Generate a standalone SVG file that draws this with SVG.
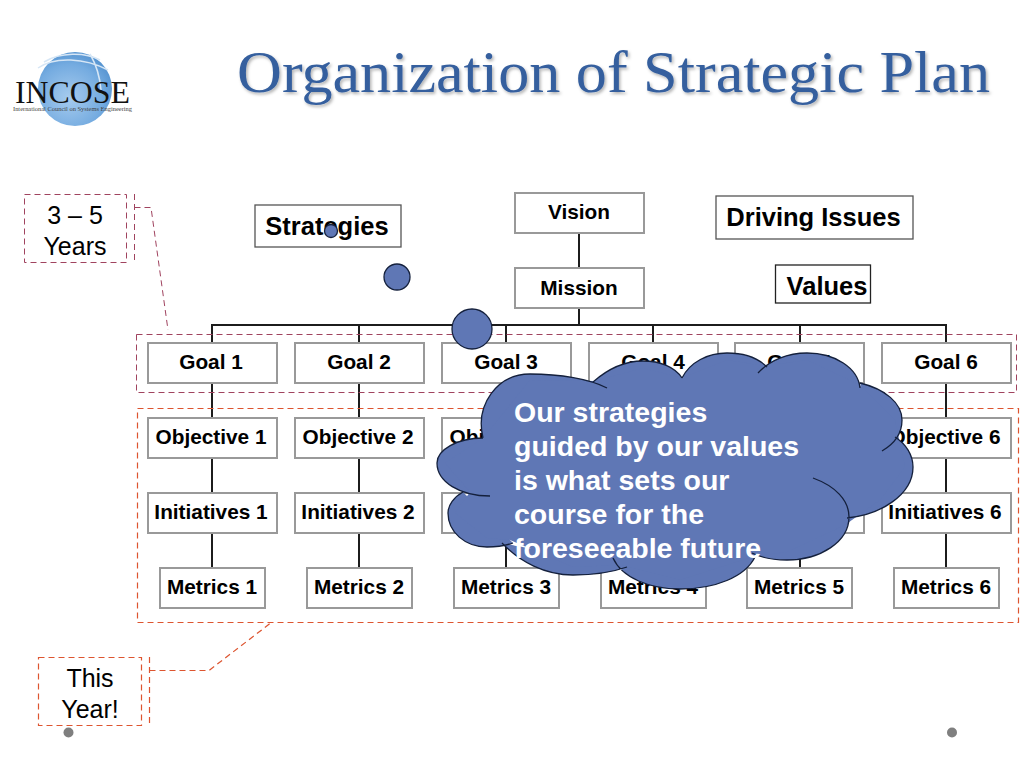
<svg xmlns="http://www.w3.org/2000/svg" xmlns:xlink="http://www.w3.org/1999/xlink" width="1024" height="768" viewBox="0 0 1024 768">
<style>
text{font-family:"Liberation Sans",Arial,sans-serif}
.box{fill:#fff;stroke:#999;stroke-width:2}
.tb{fill:#fff;stroke:#555;stroke-width:1.300}
.lb{font-size:20.800px;font-weight:bold;fill:#000;text-anchor:middle}
.big{font-size:25.500px;font-weight:bold;fill:#000;text-anchor:middle}
.reg{font-size:25px;fill:#000;text-anchor:middle}
.ln{stroke:#1c1c1c;stroke-width:2;fill:none}
.d1{fill:none;stroke:#a0435f;stroke-width:1;stroke-dasharray:6 4}
.d2{fill:none;stroke:#dd5530;stroke-width:1.200;stroke-dasharray:6 4}
.blob{fill:#5f77b5;stroke:#14203c;stroke-width:1.300}
.cl{font-size:28.500px;font-weight:bold;fill:#fff}
</style>
<defs>
<radialGradient id="sph" cx="0.42" cy="0.62" r="0.65"><stop offset="0" stop-color="#a6cbee"/><stop offset="0.7" stop-color="#74abe0"/><stop offset="1" stop-color="#5593d0"/></radialGradient>
<filter id="ts" x="-5%" y="-20%" width="110%" height="140%"><feDropShadow dx="1.500" dy="2" stdDeviation="1.500" flood-color="#000" flood-opacity="0.3"/></filter>
<path id="lobes" d="M483,438 C475,405 497,374 530,374 C560,374 590,379 607,388 M593,382 C610,367 627,361 643,361 C660,361 675,367 682,378 M682,378 C690,362 708,353 727,353 C745,353 758,358 767,367 M758,373 C770,360 788,353 807,353 C835,353 858,368 860,388 M860,383 C885,389 902,403 902,420 C902,433 894,444 882,451 M895,437 C906,444 913,455 913,467 C913,495 880,515 847,518 M813,478 C835,486 849,500 849,517 C849,542 820,560 787,560 C775,560 762,558 752,553 M755,557 C745,577 715,589 680,589 C650,589 622,578 613,558 M627,567 C610,573 592,575 573,575 C545,575 520,562 502,543 M513,543 C505,546 496,547 487,547 C465,547 448,532 448,513 C448,505 454,497 463,492 M490,496 C460,496 437,482 437,463 C437,450 457,438 483,438"/>
</defs>
<rect width="1024" height="768" fill="#fff"/>

<g id="logo">
<circle cx="75" cy="89" r="37" fill="url(#sph)"/>
<path d="M38,68 C55,56 85,58 108,70 M44,62 C60,52 85,52 100,60 M90,54 C97,66 100,78 101,90" fill="none" stroke="#d6e6f5" stroke-width="1.500"/>
<text x="15" y="103" font-size="31" textLength="115" lengthAdjust="spacingAndGlyphs" style="font-family:'Liberation Serif',serif" fill="#111">INCOSE</text>
<text x="13" y="110.500" font-size="5.400" textLength="119" lengthAdjust="spacingAndGlyphs" style="font-family:'Liberation Serif',serif" fill="#444">International Council on Systems Engineering</text>
</g>
<text id="title" x="237" y="92" font-size="60" textLength="753" lengthAdjust="spacingAndGlyphs" filter="url(#ts)" style="font-family:'Liberation Serif',serif" fill="#355f9e">Organization of Strategic Plan</text>

<g id="connectors">
<path class="ln" d="M579,233V268M579,308V325M212,343V325H946V343M359,325V343M506,325V343M653,325V343M800,325V343"/>
<path class="ln" d="M212,383V568M359,383V568M506,383V568M653,383V568M800,383V568M946,383V568"/>
</g>

<g id="vision"><rect class="box" x="515" y="193" width="129" height="40"/><text class="lb" x="579" y="219">Vision</text></g>
<g id="mission"><rect class="box" x="515" y="268" width="129" height="40"/><text class="lb" x="579" y="295">Mission</text></g>
<g id="strategies"><rect class="tb" x="255" y="205" width="146" height="42"/><text class="big" x="327" y="235">Strategies</text></g>
<g id="driving"><rect class="tb" x="716" y="196" width="197" height="43"/><text class="big" x="813.500" y="226">Driving Issues</text></g>
<g id="values"><rect x="775.500" y="265" width="95" height="38" fill="#fff" stroke="#222" stroke-width="1.300"/><text class="big" x="827" y="295">Values</text></g>

<g id="goal1"><rect class="box" x="148" y="343" width="129" height="40"/><text class="lb" x="211" y="369">Goal 1</text></g>
<g id="goal2"><rect class="box" x="295" y="343" width="129" height="40"/><text class="lb" x="359" y="369">Goal 2</text></g>
<g id="goal3"><rect class="box" x="442" y="343" width="129" height="40"/><text class="lb" x="506" y="369">Goal 3</text></g>
<g id="goal4"><rect class="box" x="589" y="343" width="129" height="40"/><text class="lb" x="653" y="369">Goal 4</text></g>
<g id="goal5"><rect class="box" x="735" y="343" width="129" height="40"/><text class="lb" x="799" y="369">Goal 5</text></g>
<g id="goal6"><rect class="box" x="882" y="343" width="129" height="40"/><text class="lb" x="946" y="369">Goal 6</text></g>

<g id="objective1"><rect class="box" x="148" y="418" width="129" height="40"/><text class="lb" x="211" y="444">Objective 1</text></g>
<g id="objective2"><rect class="box" x="295" y="418" width="129" height="40"/><text class="lb" x="358" y="444">Objective 2</text></g>
<g id="objective3"><rect class="box" x="442" y="418" width="129" height="40"/><text class="lb" x="505" y="444">Objective 3</text></g>
<g id="objective6"><rect class="box" x="882" y="418" width="129" height="40"/><text class="lb" x="945" y="444">Objective 6</text></g>

<g id="initiatives1"><rect class="box" x="148" y="493" width="129" height="40"/><text class="lb" x="211" y="519">Initiatives 1</text></g>
<g id="initiatives2"><rect class="box" x="295" y="493" width="129" height="40"/><text class="lb" x="358" y="519">Initiatives 2</text></g>
<g id="initiatives3"><rect class="box" x="442" y="493" width="129" height="40"/></g>
<g id="initiatives5"><rect class="box" x="735" y="493" width="129" height="40"/></g>
<g id="initiatives6"><rect class="box" x="882" y="493" width="129" height="40"/><text class="lb" x="945" y="519">Initiatives 6</text></g>

<g id="metrics1"><rect class="box" x="160" y="568" width="105" height="40"/><text class="lb" x="212" y="594">Metrics 1</text></g>
<g id="metrics2"><rect class="box" x="307" y="568" width="105" height="40"/><text class="lb" x="359" y="594">Metrics 2</text></g>
<g id="metrics3"><rect class="box" x="454" y="568" width="105" height="40"/><text class="lb" x="506" y="594">Metrics 3</text></g>
<g id="metrics4"><rect class="box" x="601" y="568" width="105" height="40"/><text class="lb" x="653" y="594">Metrics 4</text></g>
<g id="metrics5"><rect class="box" x="747" y="568" width="105" height="40"/><text class="lb" x="799" y="594">Metrics 5</text></g>
<g id="metrics6"><rect class="box" x="894" y="568" width="105" height="40"/><text class="lb" x="946" y="594">Metrics 6</text></g>

<g id="range-goals"><rect class="d1" x="136.500" y="334.500" width="880" height="58"/></g>
<g id="range-year"><rect class="d2" x="137.500" y="408.500" width="881" height="214"/></g>

<g id="years"><rect class="d1" x="24.500" y="194.500" width="102" height="68"/><path class="d1" d="M134.500,194V262M134.500,207.500H151L168,330"/><text class="reg" x="75" y="224">3 – 5</text><text class="reg" x="75" y="255">Years</text></g>
<g id="thisyear"><rect class="d2" x="38.500" y="657.500" width="103" height="68"/><path class="d2" d="M149.500,657V725M149.500,670.500H209L272,622"/><text class="reg" x="90" y="687">This</text><text class="reg" x="90" y="718">Year!</text></g>

<circle class="blob" cx="331" cy="231" r="6.500"/>
<circle class="blob" cx="397" cy="277" r="13"/>
<circle class="blob" cx="472" cy="329" r="20"/>

<g id="cloud">
<use xlink:href="#lobes" href="#lobes" fill="#5f77b5"/>
<polygon fill="#5f77b5" points="483,438 530,380 595,381 643,368 682,378 727,360 766,366 807,360 860,385 895,420 905,467 880,500 845,525 787,552 755,556 680,580 620,565 573,567 510,540 487,538 455,513 470,492 445,463"/>
<use xlink:href="#lobes" href="#lobes" fill="none" stroke="#14203c" stroke-width="1.300"/>
<text class="cl" x="514" y="422">Our strategies</text>
<text class="cl" x="514" y="456">guided by our values</text>
<text class="cl" x="514" y="490">is what sets our</text>
<text class="cl" x="514" y="524">course for the</text>
<text class="cl" x="514" y="558">foreseeable future</text>
</g>

<circle cx="68.500" cy="732.500" r="5" fill="#7f7f7f"/>
<circle cx="952" cy="732.500" r="5" fill="#7f7f7f"/>
</svg>
